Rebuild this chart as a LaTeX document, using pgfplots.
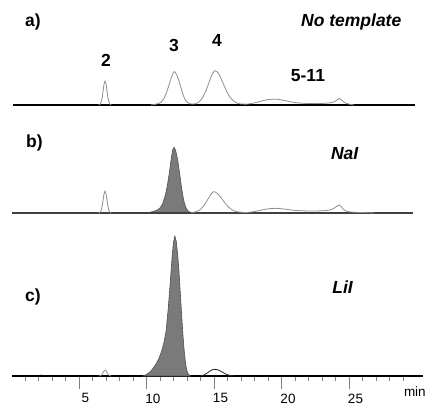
\documentclass[border=0pt]{standalone}
\usepackage{pgfplots}
\pgfplotsset{compat=1.18}
\usepackage{fontspec}
\setmainfont{Liberation Sans}

\definecolor{trace}{HTML}{8E8E8E}
\definecolor{peakfill}{HTML}{7A7A7A}
\definecolor{peakedge}{HTML}{505050}

\pgfplotsset{
  chrom/.style={scale only axis, width=411.75bp, xmin=0, xmax=30.5, ymin=0, clip=false},
}
\tikzset{
  lbl/.style={font=\fontsize{17.5bp}{20bp}\selectfont\bfseries, inner sep=0pt},
  ilbl/.style={font=\fontsize{17.5bp}{20bp}\selectfont\bfseries\itshape, inner sep=0pt},
}

\begin{document}
\begin{tikzpicture}
\path[use as bounding box] (0,0) rectangle (426bp,406bp);

% a) no template
\begin{axis}[chrom, hide axis, at={(11.5bp,301bp)}, anchor=south west, height=105bp, ymax=105]
\addplot[black, line width=1.2bp] coordinates {(0.1,0) (29.9,0)};
\addplot[trace, line width=0.8bp] coordinates {
 (6.45,0) (6.51,0.27) (6.58,1.06) (6.65,3.24) (6.72,7.8) (6.79,14.6) (6.86,21.2) (6.93,24)
 (7.00,21.2) (7.07,14.6) (7.14,7.8) (7.21,3.24) (7.28,1.06) (7.35,0.27) (7.4,0)};
\addplot[trace, line width=0.8bp] coordinates {
 (10.3,0) (10.6,0.5) (10.9,1.5) (11.1,3) (11.3,6.5) (11.5,13) (11.7,21.5) (11.85,28) (12.0,33)
 (12.1,33.2) (12.25,30) (12.4,24.5) (12.55,17.5) (12.7,10.5) (12.85,5.5) (13.0,2.8) (13.2,1.3)
 (13.4,0.9) (13.6,1.2) (13.8,2.2) (14.0,4.5) (14.2,8.5) (14.4,14) (14.6,21.5) (14.8,29) (15.0,33.8)
 (15.1,34.3) (15.25,33) (15.4,30) (15.6,24) (15.8,17.8) (16.0,12) (16.2,7.5) (16.4,4.5) (16.6,2.6)
 (16.8,1.5) (17.0,1) (17.4,0.8) (17.8,1.5) (18.2,2.8) (18.6,4.3) (19.0,5.4) (19.4,5.9) (19.8,5.6)
 (20.2,4.6) (20.6,3.4) (21.0,2.4) (21.5,1.8) (22.0,1.5) (22.5,1.4) (23.0,1.5) (23.5,2.0) (23.8,2.8)
 (24.0,4.0) (24.15,5.5) (24.3,6.5) (24.45,5.0) (24.6,3.0) (24.8,1.6) (25.0,0.9) (25.2,0.4) (25.4,0)};
\node[lbl, anchor=base west] at (axis cs:1.0,78) {a)};
\node[ilbl, anchor=base east] at (axis cs:28.89,78) {No template};
\node[lbl, anchor=base] at (axis cs:7.0,38.5) {2};
\node[lbl, anchor=base] at (axis cs:12.04,53.5) {3};
\node[lbl, anchor=base] at (axis cs:15.22,58.5) {4};
\node[lbl, anchor=base] at (axis cs:21.96,23.3) {5-11};
\end{axis}

% b) NaI
\begin{axis}[chrom, hide axis, at={(11.5bp,193bp)}, anchor=south west, height=93bp, ymax=93]
\addplot[peakfill, fill=peakfill, draw=peakedge, line width=0.6bp] coordinates {
 (9.9,0) (10.2,0.6) (10.5,1.5) (10.8,3) (11.0,5) (11.2,9.5) (11.4,18) (11.55,28) (11.7,41)
 (11.85,56) (11.95,63.5) (12.05,65.7) (12.15,63) (12.3,54) (12.45,40) (12.6,25) (12.75,13)
 (12.9,6) (13.05,2.5) (13.2,0.8) (13.35,0)} \closedcycle;
\addplot[black!75, line width=1.4bp] coordinates {(0,0) (29.75,0)};
\addplot[trace, line width=0.8bp] coordinates {
 (6.45,0) (6.51,0.25) (6.58,0.97) (6.65,2.97) (6.72,7.15) (6.79,13.4) (6.86,19.4) (6.93,22)
 (7.00,19.4) (7.07,13.4) (7.14,7.15) (7.21,2.97) (7.28,0.97) (7.35,0.25) (7.4,0)};
\addplot[trace, line width=0.8bp] coordinates {
 (13.3,0) (13.6,1) (13.8,2) (14.0,3.6) (14.2,6.5) (14.4,10.5) (14.6,15) (14.8,19.3) (14.95,21.3)
 (15.1,21) (15.3,19) (15.5,15.8) (15.7,12) (15.9,8.5) (16.1,5.6) (16.3,3.5) (16.5,2.1) (16.7,1.3)
 (17.0,0.7) (17.4,0.5) (17.8,1.0) (18.2,2.0) (18.6,3.2) (19.0,4.2) (19.5,4.7) (20.0,4.3) (20.5,3.4)
 (21.0,2.6) (21.5,2.2) (22.0,2.0) (22.5,2.0) (23.0,2.2) (23.5,2.8) (23.8,4.0) (24.0,5.8) (24.15,7.3)
 (24.28,8) (24.4,6.8) (24.55,4.2) (24.7,2.4) (24.9,1.4) (25.2,0.9) (25.6,0.6) (26.2,0.4) (26.9,0)};
\node[lbl, anchor=base west] at (axis cs:1.07,65) {b)};
\node[ilbl, anchor=base east] at (axis cs:25.7,53) {NaI};
\end{axis}

% c) LiI
\begin{axis}[chrom, at={(11.5bp,30bp)}, anchor=south west, height=146bp, ymax=146,
  axis x line*=bottom, axis y line=none,
  axis line style={black, line width=1.2bp},
  xtick={5,10,15,20,25}, minor xtick={1,...,29},
  tick align=outside, major tick length=13bp, minor tick length=5bp,
  every tick/.style={black!50, line width=0.6bp},
  xticklabel style={font=\fontsize{13.5bp}{15bp}\selectfont, inner sep=0pt, xshift=6.5bp, yshift=-4.5bp},
  /pgf/number format/assume math mode=true]
\addplot[peakfill, fill=peakfill, draw=peakedge, line width=0.6bp] coordinates {
 (9.75,0) (10.0,1.5) (10.3,4.5) (10.5,8) (10.7,12) (10.9,17) (11.1,24) (11.3,34) (11.45,45)
 (11.6,66) (11.75,92) (11.9,120) (12.0,134) (12.1,140) (12.2,135) (12.3,123) (12.4,106) (12.5,84)
 (12.6,62) (12.7,41) (12.8,24) (12.9,12) (13.0,5) (13.1,1.8) (13.25,0)} \closedcycle;
\addplot[trace, line width=0.8bp] coordinates {
 (6.45,0) (6.51,0.07) (6.58,0.27) (6.65,0.81) (6.72,1.95) (6.79,3.65) (6.86,5.3) (6.93,6)
 (7.00,5.3) (7.07,3.65) (7.14,1.95) (7.21,0.81) (7.28,0.27) (7.35,0.07) (7.4,0)};
\addplot[black!85, line width=0.8bp] coordinates {
 (14.0,0) (14.3,1.2) (14.5,3) (14.7,5) (14.9,6.4) (15.05,6.7) (15.2,6.5) (15.4,5.5) (15.6,4)
 (15.8,2.4) (16.0,1.2) (16.2,0.5) (16.5,0)};
\addplot[black, line width=0.8bp] coordinates {(1.8,0) (2.2,0.8) (2.6,0)};
\node[lbl, anchor=base west] at (axis cs:1.0,75) {c)};
\node[ilbl, anchor=base east] at (axis cs:25.3,83) {LiI};
\node[font=\fontsize{13.5bp}{15bp}\selectfont, inner sep=0pt, anchor=base east] at (axis cs:30.7,-20) {min};
\end{axis}
\end{tikzpicture}
\end{document}
